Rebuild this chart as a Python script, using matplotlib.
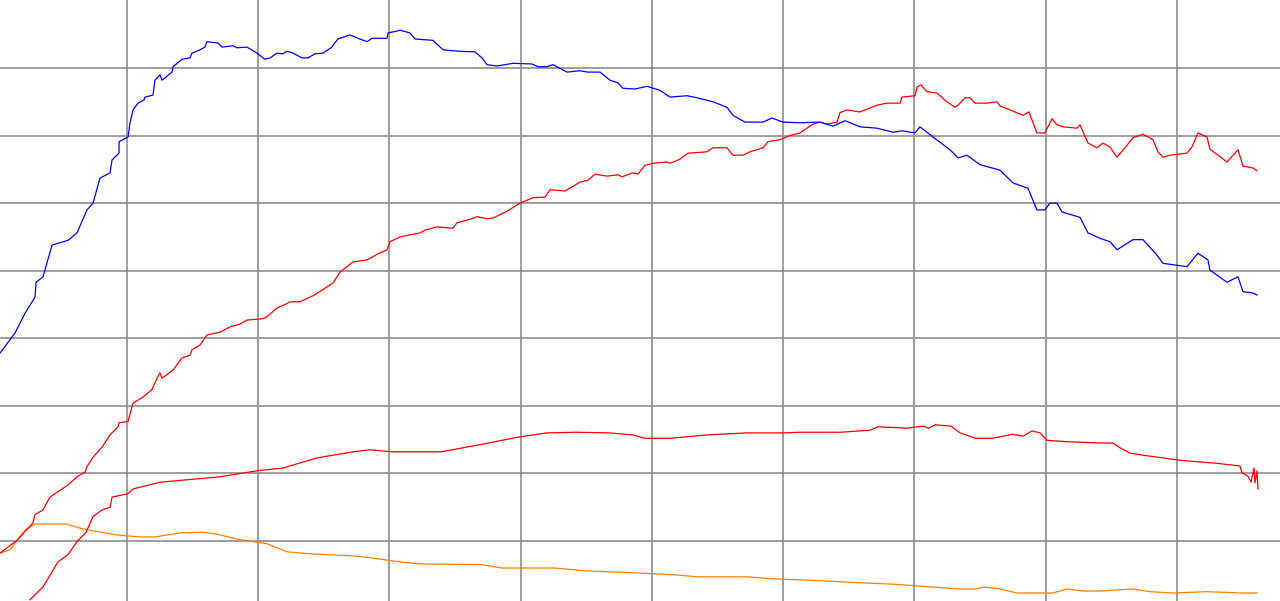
import matplotlib
matplotlib.use("Agg")
import matplotlib.pyplot as plt

# blue series
blue_x = [3.2, 14.7, 22.3, 29.9, 30.7, 36.0, 42.9, 55.1, 61.9, 69.5, 74.1, 79.4, 87.1, 88.6, 93.9, 94.0,
          100.8, 102.3, 104.6, 108.4, 113.0, 113.7, 119.8, 121.3, 125.1, 126.7, 134.3, 135.1, 141.9, 148.0,
          149.5, 155.6, 159.4, 160.9, 169.3, 172.4, 180.8, 183.8, 191.4, 199.1, 205.1, 209.0, 214.3, 218.9,
          221.9, 226.5, 233.3, 237.9, 243.2, 249.3, 256.2, 257.0, 260.8, 269.9, 276.0, 282.9, 286.7, 298.1,
          298.9, 306.5, 308.0, 315.6, 319.4, 333.1, 340.8, 351.4, 365.1, 370.5, 374.3, 381.9, 394.1, 408.6,
          413.1, 420.0, 424.6, 435.2, 445.1, 451.3, 460.4, 468.0, 474.1, 477.9, 487.1, 496.2, 506.1, 513.7,
          526.7, 534.3, 546.5, 557.1, 561.7, 570.9, 584.6, 591.4, 599.8, 612.8, 628.0, 637.9, 647.1, 658.5,
          671.4, 683.6, 690.5, 700.4, 704.2, 714.1, 727.1, 733.2, 740.0, 749.9, 765.1, 775.0, 786.5, 793.3,
          799.4, 803.2, 808.6, 812.4, 826.1, 832.2, 841.3, 849.0, 854.3, 866.5, 874.1, 884.8, 889.3, 907.6,
          916.0, 923.6, 925.1, 938.1, 946.5, 950.3, 957.9, 961.0]
blue_y = [37.8, 40.8, 43.7, 46.1, 48.3, 49.1, 53.8, 54.5, 55.6, 59.0, 60.0, 63.7, 64.5, 66.4, 67.4, 69.1,
          69.8, 71.9, 73.8, 74.8, 75.3, 75.7, 76.0, 78.2, 79.0, 78.2, 79.4, 80.2, 81.3, 81.5,
          82.2, 82.7, 83.1, 83.9, 83.7, 83.1, 83.3, 83.0, 83.1, 82.2, 81.3, 81.5, 82.2, 82.1,
          82.5, 82.2, 81.5, 81.5, 82.1, 82.2, 83.1, 83.4, 84.3, 84.9, 84.4, 83.9, 84.4, 84.4,
          85.2, 85.5, 85.6, 85.2, 84.3, 84.1, 82.7, 82.5, 82.4, 81.5, 80.5, 80.3, 80.7, 80.6,
          80.2, 80.2, 80.5, 79.4, 79.6, 79.4, 79.4, 78.2, 77.8, 77.0, 76.9, 77.3, 76.7, 75.7,
          75.9, 75.6, 75.0, 74.2, 73.0, 72.0, 72.0, 72.6, 72.0, 71.9, 72.0, 71.4, 72.2, 71.3,
          71.1, 70.5, 70.7, 70.4, 71.3, 69.8, 67.9, 66.7, 67.1, 65.7, 64.9, 63.0, 62.2, 59.0,
          59.0, 60.0, 60.0, 58.7, 57.9, 55.6, 54.8, 54.3, 53.1, 54.6, 54.6, 52.3, 51.1, 50.6,
          52.6, 51.6, 50.1, 48.3, 49.1, 46.9, 46.7, 46.4]

# upper red series
red_top_x = [3.2, 16.2, 28.4, 29.9, 36.0, 41.3, 49.0, 55.1, 61.9, 68.0, 69.5, 74.1, 81.0, 87.1, 93.1, 93.9,
             100.8, 104.6, 112.2, 119.0, 122.9, 125.1, 126.7, 135.1, 141.9, 148.0, 149.5, 155.6, 160.9,
             170.9, 178.5, 186.1, 191.4, 203.6, 206.7, 214.3, 220.4, 224.2, 231.8, 241.7, 249.3, 257.0,
             262.3, 272.2, 282.9, 291.2, 298.1, 300.4, 308.0, 323.2, 327.0, 336.2, 348.4, 351.4, 362.9,
             366.7, 374.3, 378.9, 389.5, 399.4, 409.3, 418.5, 422.3, 433.7, 445.1, 451.2, 456.6, 465.7,
             474.1, 477.1, 485.5, 489.3, 494.7, 500.8, 511.4, 513.7, 521.3, 527.4, 541.9, 546.5, 557.1,
             561.7, 569.3, 574.7, 584.6, 588.4, 597.5, 605.1, 612.8, 622.7, 628.0, 633.3, 641.0, 643.2,
             648.6, 658.5, 671.4, 679.0, 689.0, 690.5, 700.4, 701.9, 705.0, 709.5, 717.1, 724.8, 730.9,
             733.2, 738.5, 742.3, 746.1, 755.2, 762.9, 765.1, 772.8, 782.7, 787.2, 793.3, 799.4, 804.8,
             808.6, 813.2, 823.8, 826.1, 832.2, 839.1, 843.6, 849.0, 854.3, 860.4, 866.5, 874.1, 881.7,
             885.5, 889.3, 894.7, 907.6, 911.4, 916.0, 922.9, 925.1, 938.1, 946.5, 950.3, 957.9, 961.0]
red_top_y = [8.2, 10.1, 12.7, 13.9, 14.6, 16.5, 17.5, 18.3, 19.5, 20.2, 21.0, 22.4, 23.9, 25.7, 26.9, 27.5,
             27.7, 30.4, 31.3, 32.4, 34.1, 34.9, 34.1, 35.3, 37.1, 37.5, 38.3, 39.0, 40.5,
             40.9, 41.7, 42.1, 42.7, 42.9, 43.2, 44.5, 45.0, 45.4, 45.4, 46.3, 47.2, 48.2,
             49.8, 51.3, 51.6, 52.5, 53.1, 54.3, 55.0, 55.6, 56.0, 56.5, 56.3, 57.1, 57.7,
             58.0, 57.7, 57.8, 58.8, 60.0, 60.8, 60.9, 62.0, 61.8, 63.1, 63.4, 64.3, 64.0,
             64.2, 63.9, 64.5, 64.3, 65.6, 65.9, 66.1, 65.9, 66.5, 67.4, 67.6, 68.2, 68.2,
             67.1, 67.1, 67.6, 68.2, 69.1, 69.4, 70.0, 70.4, 71.7, 72.0, 71.7, 72.0, 73.4,
             73.8, 73.5, 74.5, 74.8, 74.8, 75.7, 75.9, 77.2, 77.5, 76.5, 76.3, 75.0, 74.2,
             74.5, 75.6, 75.6, 74.8, 74.8, 75.0, 74.4, 73.8, 73.0, 73.5, 70.4, 70.4, 72.5,
             71.6, 71.3, 71.1, 71.6, 68.9, 68.2, 68.9, 68.3, 66.8, 68.2, 69.7, 70.2, 69.4,
             67.6, 66.8, 67.1, 67.4, 68.3, 70.4, 69.8, 68.0, 66.1, 67.9, 65.5, 65.2, 64.8]

# lower red series
red_low_x = [26.1, 36.0, 47.4, 55.1, 61.9, 68.8, 74.1, 81.0, 87.1, 88.6, 100.8, 104.6, 125.1, 170.9, 199.1,
             218.9, 244.8, 272.2, 285.1, 301.9, 339.2, 367.4, 398.7, 420.0, 442.1, 467.2, 485.5, 494.7,
             513.7, 541.9, 572.4, 600.6, 612.8, 644.0, 666.1, 672.2, 694.3, 706.5, 711.0, 715.6, 727.8,
             734.7, 746.9, 759.0, 775.0, 782.7, 789.5, 795.6, 801.0, 816.2, 841.3, 851.3, 856.6, 864.2,
             874.1, 889.3, 900.0, 917.5, 930.5, 948.0, 949.5, 954.1, 956.4, 958.7, 959.4, 961.0, 961.7]
red_low_y = [1.3, 3.2, 6.9, 8.0, 9.9, 11.3, 13.6, 14.6, 15.0, 16.5, 17.0, 17.7, 18.7, 19.5, 20.4,
             20.8, 22.3, 23.2, 23.5, 23.2, 23.2, 24.2, 25.4, 26.0, 26.1, 26.0, 25.7, 25.2,
             25.2, 25.7, 26.0, 26.0, 26.1, 26.1, 26.4, 26.9, 26.7, 27.0, 26.7, 27.2, 27.0,
             26.0, 25.2, 25.2, 25.8, 25.5, 26.3, 26.0, 24.9, 24.7, 24.5, 24.5, 23.8, 23.0,
             22.7, 22.3, 22.0, 21.7, 21.5, 21.1, 20.1, 19.6, 18.7, 20.8, 18.6, 20.4, 17.7]

# orange series
orange_x = [3.2, 10.9, 16.2, 22.3, 29.9, 54.3, 64.2, 74.1, 92.4, 109.9, 121.3, 140.4, 157.9, 168.6, 186.1,
            206.7, 221.9, 239.4, 272.2, 282.9, 308.0, 324.0, 370.5, 385.7, 426.1, 448.2, 485.5, 516.8,
            535.1, 572.4, 591.4, 619.6, 650.1, 684.4, 712.6, 734.7, 746.9, 753.0, 765.1, 778.1, 805.5,
            816.2, 828.4, 841.3, 866.5, 879.4, 897.0, 922.9, 950.3, 961.0]
orange_y = [8.2, 8.7, 10.1, 11.6, 12.5, 12.5, 11.9, 11.5, 10.9, 10.6, 10.6, 11.2, 11.3, 11.0, 10.2,
            9.6, 8.4, 8.1, 7.8, 7.6, 6.9, 6.6, 6.5, 6.0, 6.0, 5.6, 5.3, 5.0,
            4.7, 4.7, 4.4, 4.2, 3.9, 3.6, 3.2, 2.9, 2.9, 3.2, 2.9, 2.3, 2.3,
            2.9, 2.6, 2.6, 2.9, 2.5, 2.3, 2.5, 2.3, 2.3]

fig = plt.figure(figsize=(12.8, 6.01), dpi=100)
ax = fig.add_axes([0, 0, 1, 1])
ax.set_xlim(3.24, 978.5)
ax.set_ylim(1.12, 90.07)
ax.set_xticks(range(100, 1000, 100))
ax.set_yticks(range(10, 90, 10))
ax.grid(True, color="#8c8c8c", linewidth=1.2)
ax.set_axisbelow(True)
ax.tick_params(length=0, labelbottom=False, labelleft=False)
for s in ax.spines.values():
    s.set_visible(False)

lw = 0.9
ax.plot(orange_x, orange_y, color="#ff8000", linewidth=lw)
ax.plot(red_low_x, red_low_y, color="#ff0000", linewidth=lw)
ax.plot(red_top_x, red_top_y, color="#ff0000", linewidth=lw)
ax.plot(blue_x, blue_y, color="#0000ff", linewidth=lw)

fig.savefig("out.png", dpi=100)
